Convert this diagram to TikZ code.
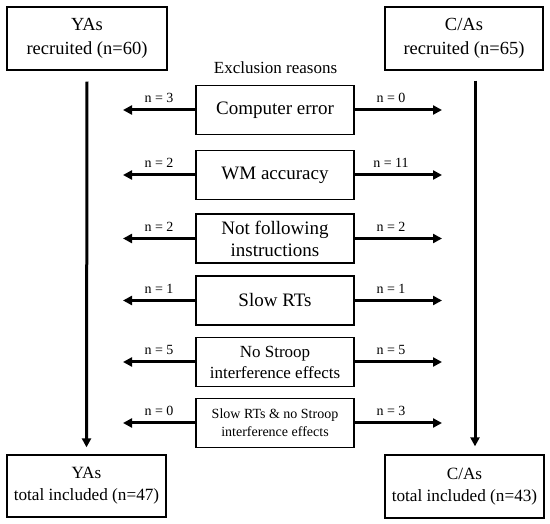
\documentclass[tikz,border=0pt]{standalone}
\usepackage{fontspec}
\setmainfont{Liberation Serif}
\usetikzlibrary{arrows.meta}
\begin{document}
\begin{tikzpicture}[x=1pt,y=-1pt,
  box/.style={draw,line width=1.3pt,align=center,inner sep=0pt},
  endbox/.style={box,font=\fontsize{18.5}{24}\selectfont},
  botbox/.style={box,font=\fontsize{17.2}{22}\selectfont},
  rbox/.style={box,minimum width=158pt,minimum height=49pt},
  harr/.style={line width=3pt,-{Triangle[length=9pt,width=9pt]}},
  lab/.style={font=\fontsize{14}{16}\selectfont,inner sep=0pt}]
\useasboundingbox (0,0) rectangle (550,524);
\node[endbox,minimum width=160pt,minimum height=63pt] (ya) at (87,38.5) {YAs\\recruited (n=60)};
\node[endbox,minimum width=158pt,minimum height=63pt] (ca) at (464,38.5) {C/As\\recruited (n=65)};
\node[botbox,minimum width=159pt,minimum height=62pt] (yb) at (86.5,486) {YAs\\total included (n=47)};
\node[botbox,minimum width=159pt,minimum height=63pt] (cb) at (464.5,486.5) {C/As\\total included (n=43)};
\node[font=\fontsize{17}{20}\selectfont,inner sep=0pt] (ex) at (275.5,67.5) {Exclusion reasons};
\node[rbox,font=\fontsize{19}{22}\selectfont] (b1) at (275,110) {Computer error};
\node[rbox,font=\fontsize{19}{22}\selectfont] (b2) at (275,175) {WM accuracy};
\node[rbox,font=\fontsize{19}{22}\selectfont] (b3) at (275,238.5) {Not following\\instructions};
\node[rbox,font=\fontsize{19}{22}\selectfont] (b4) at (275,300.5) {Slow RTs};
\node[rbox,font=\fontsize{17}{21}\selectfont] (b5) at (275,362) {No Stroop\\interference effects};
\node[rbox,font=\fontsize{14}{18}\selectfont] (b6) at (275,423) {Slow RTs \& no Stroop\\interference effects};
\foreach \i/\y in {1/110,2/175,3/238.5,4/300.5,5/362,6/423}{
  \coordinate (l\i) at (123,\y);
  \coordinate (r\i) at (442,\y);
  \draw[harr] (b\i.west) -- (l\i);
  \draw[harr] (b\i.east) -- (r\i);
}
\foreach \i/\a/\b in {1/3/0,2/2/11,3/2/2,4/1/1,5/5/5,6/0/3}{
  \node[lab] (nl\i) at ([yshift=12pt]l\i -| 159,0) {n = \a};
  \node[lab] (nr\i) at ([yshift=12pt]r\i -| 391,0) {n = \b};
}
\draw[harr] ([yshift=-11pt]ya.south) -- ([yshift=7pt]yb.north);
\draw[harr] ([yshift=-10pt]ca.south -| 475,0) -- ([yshift=8pt]cb.north -| 475,0);
\end{tikzpicture}
\end{document}
